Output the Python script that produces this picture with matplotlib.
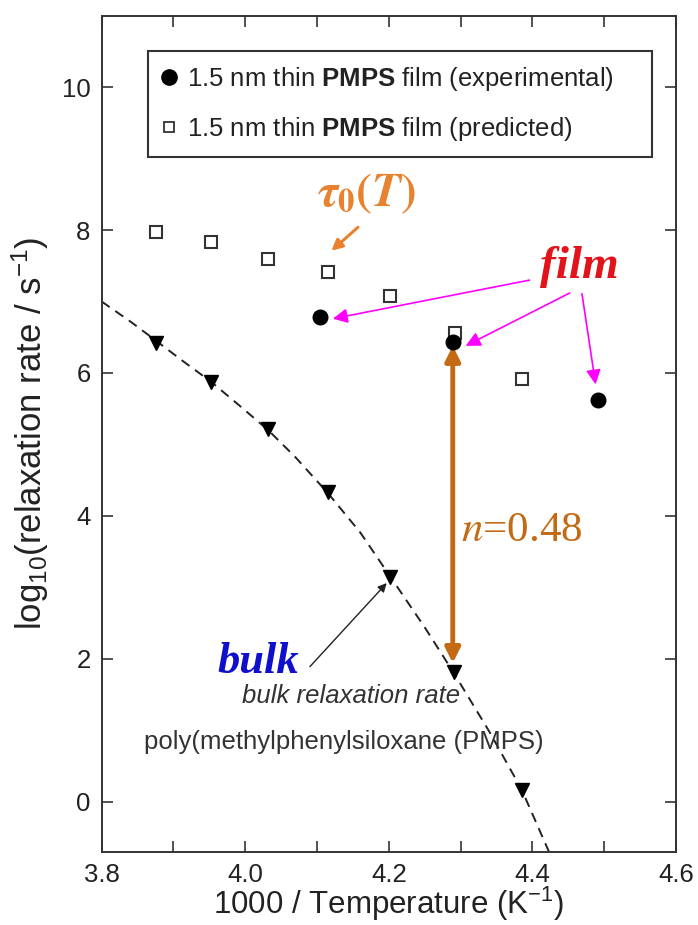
import numpy as np
import matplotlib
matplotlib.use('Agg')
import matplotlib.pyplot as plt
from matplotlib.lines import Line2D
from matplotlib.ticker import MultipleLocator, FormatStrFormatter

plt.rcParams['font.family'] = ['Liberation Sans', 'DejaVu Sans']
plt.rcParams['mathtext.fontset'] = 'custom'
plt.rcParams['mathtext.rm'] = 'Liberation Sans'
plt.rcParams['mathtext.it'] = 'Liberation Sans:italic'
plt.rcParams['mathtext.bf'] = 'Liberation Sans:bold'

# values (x = 1000/T, y = log10 rate)
bulk_x = [3.876, 3.952, 4.032, 4.115, 4.202, 4.291, 4.385]
bulk_y = [6.42, 5.88, 5.21, 4.33, 3.14, 1.81, 0.16]
pred_x = [3.875, 3.952, 4.032, 4.115, 4.201, 4.292, 4.386]
pred_y = [7.98, 7.84, 7.60, 7.41, 7.08, 6.56, 5.91]
exp_x = [4.104, 4.289, 4.492]
exp_y = [6.79, 6.44, 5.62]
fit_x = [3.80, 3.84, 3.876, 3.91, 3.952, 3.99, 4.032, 4.07, 4.115, 4.16,
         4.20, 4.25, 4.29, 4.34, 4.385, 4.423]
fit_y = [7.00, 6.72, 6.45, 6.19, 5.88, 5.56, 5.20, 4.82, 4.32, 3.77,
         3.18, 2.44, 1.81, 0.98, 0.17, -0.70]

x_ticks = [3.8, 4.0, 4.2, 4.4, 4.6]
y_ticks = [0, 2, 4, 6, 8, 10]
legend_labels = [r'1.5 nm thin $\mathbf{PMPS}$ film (experimental)',
                 r'1.5 nm thin $\mathbf{PMPS}$ film (predicted)']

INK = '#222222'
ORANGE = '#E8822E'
BROWN = '#C46A14'
MAGENTA = '#FF00FF'

fig = plt.figure(figsize=(6.98, 9.25), dpi=100)
ax = fig.add_axes([0.1457, 0.0792, 0.8228, 0.9038])

ax.plot(fit_x, fit_y, ls=(0, (5, 3.5)), color=INK, lw=1.4, zorder=2)
ax.plot(bulk_x, bulk_y, 'v', ms=10, color='black', zorder=3)
ax.plot(pred_x, pred_y, 's', ms=9, mfc='white', mec='#333333', mew=1.5, zorder=3)
ax.plot(exp_x, exp_y, 'o', ms=10.5, color='black', zorder=4)

ax.set_xlim(3.8, 4.6)
ax.set_ylim(-0.7, 11)
ax.set_xticks(x_ticks)
ax.set_yticks(y_ticks)
ax.xaxis.set_minor_locator(MultipleLocator(0.1))
ax.xaxis.set_major_formatter(FormatStrFormatter('%.1f'))
ax.tick_params(which='both', direction='in', top=True, right=True,
               length=8, width=1.2, color='#333333')
ax.tick_params(axis='x', labelsize=18.5, pad=8, labelcolor=INK)
ax.tick_params(axis='y', labelsize=18.5, pad=8, labelcolor=INK)
for s in ax.spines.values():
    s.set_color('#333333')
    s.set_linewidth(1.4)

ax.set_xlabel(r'1000 / Temperature (K$^{-1}$)', fontsize=22.5, color=INK)
ax.xaxis.set_label_coords(0.5, -0.040)
ax.set_ylabel(r'log$_{10}$(relaxation rate / s$^{-1}$)', fontsize=25, color=INK, labelpad=8)

handles = [Line2D([], [], ls='none', marker='o', ms=11, color='black'),
           Line2D([], [], ls='none', marker='s', ms=6.5, mfc='white', mec='#333333', mew=1.3)]
leg = ax.legend(handles, legend_labels, loc='upper left',
                bbox_to_anchor=(0.080, 0.958, 0.879, 0.0), mode='expand',
                borderaxespad=0, fontsize=18.5, frameon=True, fancybox=False,
                framealpha=1, edgecolor='#333333', handlelength=0.55,
                handletextpad=0.45, labelspacing=0.85, borderpad=0.55)
leg.get_frame().set_linewidth(1.5)
for t in leg.get_texts():
    t.set_color(INK)

# annotations
ax.text(4.169, 8.51, r'$\mathbfit{\tau}_{\mathbf{0}}\mathbf{(}\mathbfit{T}\mathbf{)}$',
        math_fontfamily='stix', fontsize=34, color=ORANGE, ha='center', va='center')
ax.annotate('', xy=(4.120, 7.71), xytext=(4.157, 8.04),
            arrowprops=dict(arrowstyle='-|>', color=ORANGE, lw=2.2,
                            mutation_scale=16, shrinkA=0, shrinkB=0))

ax.text(4.466, 7.33, 'film', family='Liberation Serif', style='italic',
        weight='bold', fontsize=34, color='#E0141A', ha='center', va='baseline')
for start, tip in [((4.396, 7.30), (4.122, 6.76)),
                   ((4.452, 7.12), (4.307, 6.38)),
                   ((4.469, 7.11), (4.488, 5.84))]:
    ax.annotate('', xy=tip, xytext=start,
                arrowprops=dict(arrowstyle='-|>', color=MAGENTA, lw=1.2,
                                mutation_scale=22, shrinkA=0, shrinkB=0))

ax.annotate('', xy=(exp_x[1], exp_y[1] - 0.06), xytext=(exp_x[1], bulk_y[5] + 0.13),
            arrowprops=dict(arrowstyle='<|-|>', color=BROWN, lw=3.5,
                            mutation_scale=22, shrinkA=0, shrinkB=0))
ax.text(4.300, 3.65, r'$n$=0.48', family='Liberation Serif', math_fontfamily='stix',
        fontsize=31, color=BROWN, ha='left', va='baseline')

ax.text(4.018, 1.80, 'bulk', family='Liberation Serif', style='italic',
        weight='bold', fontsize=32, color='#1010CC', ha='center', va='baseline')
ax.annotate('', xy=(4.197, 3.06), xytext=(4.090, 1.89),
            arrowprops=dict(arrowstyle='-|>', color=INK, lw=1.0,
                            mutation_scale=13, shrinkA=0, shrinkB=0))
ax.text(4.148, 1.38, 'bulk relaxation rate', style='italic', fontsize=18.5,
        color='#333333', ha='center', va='baseline')
ax.text(4.137, 0.735, 'poly(methylphenylsiloxane (PMPS)', fontsize=18.5,
        color='#333333', ha='center', va='baseline')

fig.savefig('out.png', dpi=100)
